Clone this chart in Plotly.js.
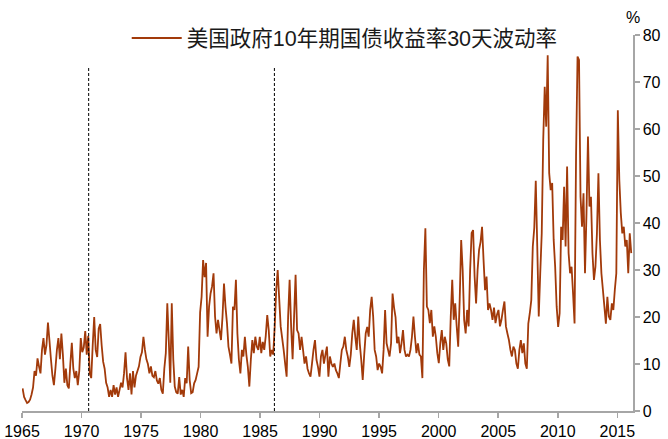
<!DOCTYPE html>
<html><head><meta charset="utf-8">
<script src="https://cdn.plot.ly/plotly-3.0.1.min.js"></script>
<style>html,body{margin:0;padding:0;background:#fff}#chart{width:668px;height:439px}</style>
</head><body><div id="chart"></div>
<script>
const seriesName = '美国政府10年期国债收益率30天波动率';
const unitLabel = '%';
const startYear = 1965.05;
const stepYear = 0.1253;

const vol_1965_1974 = [
4.8,3.0,2.3,1.7,1.9,2.4,3.5,5.0,
8.5,7.5,11.2,9.5,8.0,13.0,15.5,12.0,
14.0,18.8,15.0,11.0,7.5,5.5,9.0,13.0,
15.5,11.0,16.5,12.0,6.0,9.0,5.5,4.8,
10.0,14.5,9.0,7.0,8.5,5.5,8.5,15.5,
12.5,13.5,17.0,12.0,16.0,8.0,7.0,14.0,
20.0,13.0,11.5,17.5,18.5,14.0,10.5,9.0,
6.0,5.0,3.0,4.5,3.0,5.5,3.5,5.0,
3.0,4.5,6.0,5.0,8.0,12.5,7.0,4.5,
8.0,3.5,8.5,5.0,7.5,8.5,9.5,11.5
];
const vol_1975_1985 = [
12.5,15.8,13.0,11.0,10.0,8.0,9.5,7.5,
7.2,8.5,6.5,5.8,7.0,4.5,3.7,9.0,
12.3,22.9,15.0,6.0,22.9,11.0,5.2,4.0,
3.7,7.2,3.5,4.5,3.0,7.0,5.9,13.7,
6.6,3.8,4.0,5.9,6.6,8.0,9.4,21.0,
24.3,32.1,28.5,31.5,15.8,22.2,25.0,26.5,
29.3,20.1,16.5,19.4,17.2,15.1,20.0,27.1,
22.2,18.7,13.7,12.0,10.1,22.2,21.5,27.9,
16.5,10.9,8.0,13.0,11.6,15.8,12.0,9.4,
5.2,10.9,15.1,12.3,15.8,13.7,13.0,15.8,
12.3,14.7,13.0,16.0,20.4,17.2,11.6,13.0
];
const vol_1986_1995 = [
12.0,17.9,25.7,30.0,24.0,18.0,15.5,13.0,
10.1,7.3,20.1,27.9,18.0,11.0,20.1,29.0,
17.2,16.5,13.0,15.8,13.0,10.1,11.6,9.0,
8.0,7.3,10.1,13.0,15.1,10.9,9.4,7.3,
11.6,13.0,10.1,12.0,13.7,7.3,11.6,10.1,
9.4,10.1,8.7,8.0,7.0,10.1,13.0,13.7,
15.8,13.0,11.6,9.4,12.0,16.5,19.4,15.8,
13.0,20.1,14.4,10.9,6.6,12.0,16.5,17.9,
15.8,21.5,24.3,20.1,13.0,11.6,8.7,10.1,
9.4,8.0,13.0,21.5,14.4,13.0,11.6,14.4
];
const vol_1996_2005 = [
25.0,22.0,20.0,14.4,15.8,12.3,14.4,17.2,
13.0,11.6,12.0,11.6,13.0,15.8,20.1,15.8,
12.3,14.4,12.0,11.6,7.0,30.0,38.9,22.2,
21.5,18.7,21.5,15.8,18.0,15.8,12.3,10.2,
14.4,17.2,13.0,15.8,14.4,11.0,9.5,20.0,
27.9,19.4,22.9,18.0,13.7,23.6,36.4,30.0,
19.4,16.5,21.5,18.0,30.0,37.9,38.5,28.6,
22.9,30.0,34.3,36.0,39.2,32.1,25.7,28.6,
21.5,22.9,21.5,19.4,22.0,18.7,20.5,21.5,
18.0,19.4,21.5,23.3,18.0,16.5,15.1,13.0
];
const vol_2006_2016 = [
11.6,13.7,13.0,10.1,9.0,13.0,15.1,12.3,
14.4,10.1,9.0,18.6,20.8,23.6,35.0,39.0,
49.0,35.0,20.1,29.3,37.8,57.7,69.0,60.5,
75.7,50.6,47.0,48.5,36.4,30.7,22.2,17.9,
20.8,39.2,36.4,47.7,35.0,52.0,33.6,29.3,
30.7,25.0,18.6,54.1,75.4,74.7,45.6,39.2,
46.3,29.3,42.1,58.4,43.5,45.6,33.6,27.9,
30.7,37.8,50.6,36.4,29.3,25.8,22.2,18.6,
24.3,20.1,19.4,22.9,21.5,25.8,29.3,64.0,
49.2,42.1,37.8,39.2,35.0,36.4,29.3,37.8,
33.6
];

const eventYears = [1970.6, 1986.2];
const eventTop = 73.2;
const xTickVals = [1965,1970,1975,1980,1985,1990,1995,2000,2005,2010,2015];
const xTickText = ['1965','1970','1975','1980','1985','1990','1995','2000','2005','2010','2015'];
const yTickVals = [0,10,20,30,40,50,60,70,80];

const vols = [].concat(vol_1965_1974, vol_1975_1985, vol_1986_1995, vol_1996_2005, vol_2006_2016);
const years = vols.map((v, i) => startYear + i * stepYear);

const fontFam = "Arial, 'Liberation Sans', 'Noto Sans CJK SC', sans-serif";

const traces = [{
  x: years, y: vols, type: 'scatter', mode: 'lines', name: seriesName,
  line: {color: '#A23A0A', width: 1.8, simplify: false},
  hoverinfo: 'skip'
}];
eventYears.forEach(ey => traces.push({
  x: [ey, ey], y: [0, eventTop], type: 'scatter', mode: 'lines', showlegend: false,
  line: {color: '#000', width: 1, dash: '3px,2px'}, hoverinfo: 'skip'
}));

const layout = {
  width: 668, height: 439,
  margin: {l: 22, r: 35, t: 35, b: 28, pad: 0},
  paper_bgcolor: '#fff', plot_bgcolor: '#fff',
  font: {family: fontFam, size: 16, color: '#000'},
  showlegend: true,
  legend: {x: 0.1714, y: 0.992, xanchor: 'left', yanchor: 'middle', orientation: 'h',
    bgcolor: 'rgba(0,0,0,0)', itemwidth: 50, font: {family: fontFam, size: 21.5, color: '#1a1a1a'}},
  xaxis: {range: [1965, 2016.32], tickmode: 'array', tickvals: xTickVals, ticktext: xTickText,
    ticks: 'outside', ticklen: 5, tickwidth: 1.5, tickcolor: '#a6a6a6',
    showline: true, linecolor: '#a6a6a6', linewidth: 1.5, showgrid: false, zeroline: false,
    tickfont: {family: fontFam, size: 16, color: '#000'}},
  yaxis: {side: 'right', range: [0, 80], tickmode: 'array', tickvals: yTickVals,
    ticks: 'outside', ticklen: 5, tickwidth: 1.5, tickcolor: '#a6a6a6',
    showline: true, linecolor: '#a6a6a6', linewidth: 1.5, showgrid: false, zeroline: false,
    tickfont: {family: fontFam, size: 16, color: '#000'}},
  annotations: [{text: unitLabel, xref: 'paper', yref: 'paper', x: 1, y: 1,
    xanchor: 'center', yanchor: 'bottom', yshift: 7, showarrow: false,
    font: {family: fontFam, size: 16, color: '#000'}}]
};

Plotly.newPlot('chart', traces, layout, {staticPlot: true, displayModeBar: false});
</script>
</body></html>
